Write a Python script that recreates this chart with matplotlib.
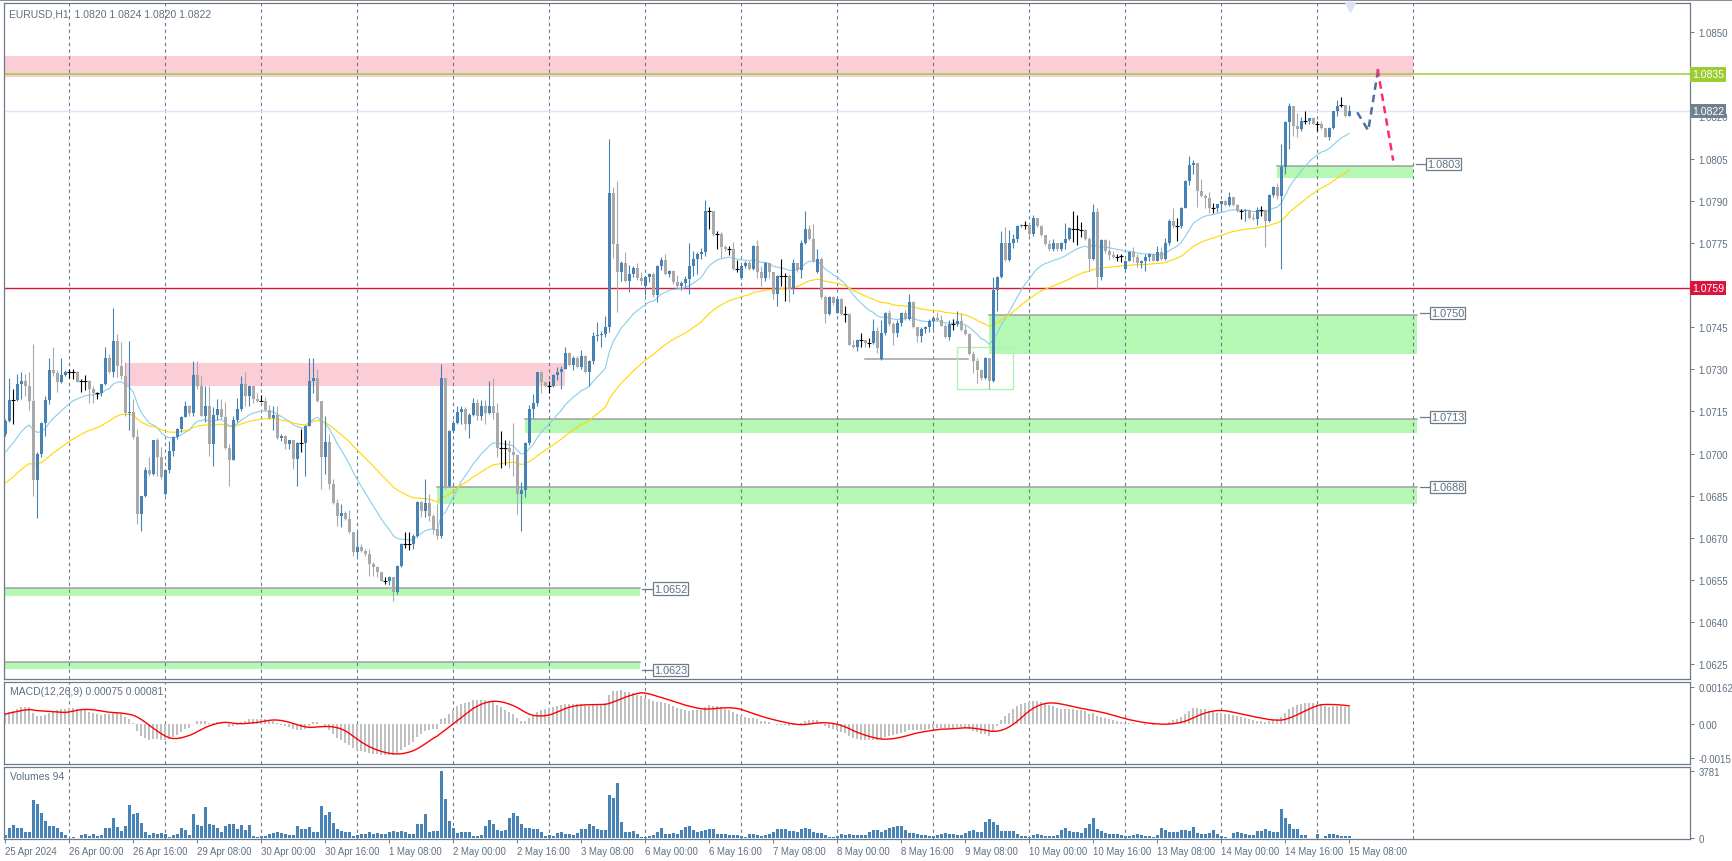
import numpy as np
import pandas as pd
import matplotlib.pyplot as plt
from matplotlib.patches import Rectangle
import matplotlib.transforms as mtransforms

plt.rcParams['font.family'] = ['Liberation Sans', 'DejaVu Sans']

# EURUSD H1, 25 Apr 2024 08:00 .. 15 May 2024 08:00
# prices are given in pips above 1.0000 (711.7 -> 1.07117)
close_pips = [
    711.7, 719.1, 719.1, 724.8, 725.9, 723.9, 718.9, 690.7, 699.9, 710.9,
    719.2, 729.8, 728.7, 725.6, 728.0, 729.2, 729.2, 729.2, 725.6, 725.9,
    725.9, 723.0, 721.6, 721.6, 724.7, 734.0, 729.0, 740.2, 731.3, 727.5,
    714.5, 714.9, 705.8, 678.5, 684.8, 694.0, 692.8, 704.9, 698.7, 691.6,
    694.0, 700.8, 706.0, 708.8, 713.2, 717.1, 714.5, 728.0, 724.2, 713.5,
    717.1, 703.4, 713.8, 715.9, 712.9, 701.9, 697.9, 712.0, 715.9, 724.8,
    720.6, 723.9, 719.4, 718.8, 718.8, 715.6, 712.6, 713.9, 705.5, 706.1,
    703.4, 704.8, 698.1, 703.8, 703.8, 709.9, 726.0, 726.8, 718.8, 698.7,
    704.0, 689.2, 682.4, 677.7, 678.9, 676.7, 672.0, 664.9, 666.6, 665.5,
    664.3, 660.7, 659.8, 657.7, 654.8, 654.8, 656.0, 650.6, 660.1, 667.8,
    667.8, 667.8, 670.8, 682.9, 679.7, 682.3, 677.9, 673.0, 670.8, 726.8,
    688.6, 708.2, 710.9, 714.7, 715.9, 710.6, 713.8, 718.0, 713.5, 717.1,
    714.5, 717.1, 714.5, 702.0, 702.0, 702.0, 700.7, 699.5, 685.7, 687.2,
    703.8, 715.9, 718.0, 729.0, 725.4, 724.2, 724.2, 728.0, 729.2, 730.1,
    735.8, 731.6, 734.0, 730.7, 734.6, 729.0, 733.1, 741.8, 742.2, 742.6,
    744.9, 792.8, 774.6, 764.8, 767.8, 761.6, 763.9, 766.0, 762.4, 761.6,
    762.8, 763.9, 756.5, 766.9, 769.0, 763.9, 765.1, 761.2, 759.8, 760.8,
    762.0, 766.7, 769.1, 771.1, 771.9, 786.2, 786.2, 778.0, 778.0, 773.5,
    772.7, 772.7, 765.8, 765.8, 766.7, 767.9, 765.8, 773.8, 764.8, 762.5,
    767.9, 764.6, 756.9, 763.2, 763.2, 763.2, 758.7, 767.9, 765.5, 775.0,
    780.0, 776.4, 768.7, 769.1, 755.7, 749.8, 755.7, 753.7, 755.1, 749.8,
    749.8, 738.7, 738.0, 740.3, 740.3, 739.5, 739.5, 743.8, 737.5, 743.0,
    750.1, 746.0, 743.0, 746.6, 750.2, 747.8, 753.9, 745.0, 741.8, 744.2,
    745.0, 747.1, 748.3, 747.4, 745.6, 741.5, 746.0, 746.0, 747.1, 743.9,
    742.7, 735.6, 732.8, 729.6, 726.9, 734.0, 725.7, 758.1, 762.8, 775.1,
    768.8, 775.1, 776.3, 781.0, 781.5, 781.5, 778.0, 783.8, 781.0, 777.7,
    774.7, 772.7, 775.1, 772.7, 775.1, 776.3, 780.3, 780.1, 779.8, 779.6,
    776.5, 769.1, 786.0, 763.0, 776.0, 772.0, 770.8, 770.0, 770.0, 770.2,
    768.7, 771.6, 769.9, 767.7, 768.5, 770.1, 771.0, 768.7, 771.6, 769.3,
    774.8, 782.9, 781.1, 781.1, 787.6, 796.9, 802.8, 803.5, 793.6, 791.8,
    791.0, 787.6, 787.6, 788.8, 789.8, 788.6, 791.2, 788.6, 786.2, 786.2,
    786.7, 783.9, 783.5, 786.7, 786.7, 782.7, 792.2, 795.0, 791.8, 801.9,
    817.9, 823.8, 816.7, 815.5, 818.5, 818.5, 819.3, 817.5, 817.5, 815.9,
    812.8, 815.9, 821.8, 823.8, 824.0, 820.0, 822.0]

high_pips = [
    712.3, 726.8, 723.0, 728.4, 729.0, 728.4, 729.0, 739.0, 700.5, 711.2,
    720.4, 733.9, 737.8, 729.9, 733.9, 729.9, 730.0, 730.3, 729.5, 726.6,
    728.0, 726.2, 724.2, 722.1, 724.8, 737.8, 735.5, 751.8, 742.6, 739.9,
    732.7, 740.2, 719.5, 708.8, 685.1, 695.1, 698.7, 705.0, 705.5, 702.3,
    694.3, 704.4, 706.2, 709.0, 713.5, 718.9, 717.4, 733.1, 733.1, 727.8,
    724.2, 724.2, 716.5, 719.5, 719.5, 718.3, 703.4, 713.5, 719.8, 727.7,
    728.9, 724.2, 724.0, 721.6, 720.9, 720.0, 717.3, 716.8, 716.8, 707.0,
    706.5, 705.0, 704.8, 704.0, 708.8, 710.2, 733.9, 733.9, 730.1, 718.8,
    713.5, 707.0, 691.0, 683.8, 682.1, 679.5, 680.0, 672.0, 672.2, 667.8,
    666.0, 666.1, 661.5, 660.0, 658.0, 656.0, 656.5, 656.0, 660.3, 668.2,
    672.0, 672.0, 671.4, 683.2, 683.2, 691.0, 685.6, 678.5, 682.0, 731.9,
    727.0, 708.5, 712.0, 716.8, 716.8, 716.5, 714.5, 719.7, 719.5, 719.2,
    719.0, 725.9, 727.0, 718.0, 708.0, 705.0, 705.0, 710.9, 700.0, 689.8,
    704.0, 717.3, 721.2, 729.2, 729.5, 725.5, 726.0, 728.4, 730.7, 731.3,
    737.8, 736.3, 734.6, 734.9, 737.0, 735.0, 733.5, 743.2, 746.7, 743.5,
    749.1, 812.0, 794.8, 797.2, 768.5, 771.9, 767.1, 766.9, 767.9, 764.8,
    763.3, 764.3, 764.5, 767.2, 769.9, 771.1, 765.5, 765.5, 763.5, 761.3,
    763.4, 775.0, 772.3, 771.9, 773.1, 790.1, 787.7, 786.5, 779.1, 779.0,
    774.3, 774.0, 775.3, 769.0, 767.0, 768.7, 768.5, 774.3, 775.9, 766.7,
    768.1, 768.0, 764.6, 763.5, 769.1, 764.3, 764.0, 769.1, 768.0, 776.2,
    786.2, 781.2, 781.8, 772.9, 769.9, 756.3, 756.0, 756.0, 755.5, 755.4,
    752.7, 749.9, 740.6, 740.9, 743.0, 740.5, 741.0, 748.0, 745.0, 747.4,
    750.4, 751.0, 747.0, 747.5, 750.5, 751.0, 756.9, 754.2, 745.0, 745.0,
    745.5, 748.0, 748.6, 750.4, 749.2, 746.2, 747.4, 748.0, 750.6, 750.2,
    745.9, 742.9, 736.7, 734.0, 730.0, 734.4, 734.2, 762.8, 763.2, 779.1,
    780.6, 779.5, 778.3, 781.5, 781.8, 782.7, 782.0, 785.0, 783.6, 781.2,
    777.7, 775.9, 776.3, 775.1, 775.5, 782.2, 780.6, 786.2, 785.0, 782.5,
    779.8, 777.0, 788.9, 787.4, 776.5, 776.3, 776.0, 772.0, 771.0, 771.1,
    769.0, 772.0, 773.7, 771.0, 769.0, 771.0, 771.3, 771.3, 774.0, 773.7,
    776.7, 783.5, 787.6, 783.9, 787.9, 797.4, 806.0, 804.5, 803.6, 797.7,
    792.3, 793.0, 789.2, 789.0, 790.0, 790.2, 793.0, 791.5, 788.8, 787.1,
    787.1, 787.0, 785.5, 787.9, 788.0, 787.0, 792.5, 795.4, 796.5, 810.2,
    818.5, 824.7, 823.9, 821.1, 819.9, 821.8, 819.5, 819.7, 818.3, 818.3,
    816.0, 816.1, 822.1, 825.8, 827.0, 824.2, 824.0]

low_pips = [
    706.4, 711.2, 710.6, 718.9, 719.5, 720.6, 715.7, 684.8, 677.0, 698.7,
    706.4, 717.7, 727.5, 722.1, 725.0, 727.5, 727.0, 726.6, 725.4, 721.8,
    722.8, 718.0, 718.0, 719.5, 720.6, 724.5, 728.7, 727.2, 727.2, 726.6,
    713.3, 708.5, 705.2, 675.0, 672.6, 684.5, 692.2, 692.5, 691.9, 691.0,
    685.3, 693.1, 699.3, 705.2, 707.6, 712.9, 713.5, 713.5, 723.0, 713.3,
    711.2, 699.3, 695.7, 712.1, 712.3, 701.7, 688.6, 697.8, 711.1, 715.3,
    716.8, 716.8, 718.2, 718.5, 718.6, 715.3, 712.3, 708.5, 705.2, 704.6,
    701.6, 701.6, 694.5, 688.6, 700.7, 691.9, 709.7, 721.6, 718.5, 687.4,
    692.7, 687.4, 682.0, 674.1, 673.8, 676.3, 671.7, 663.7, 663.4, 664.9,
    663.4, 656.6, 656.6, 656.0, 654.5, 653.6, 653.4, 647.7, 650.0, 659.5,
    666.3, 665.8, 666.0, 670.5, 677.3, 677.3, 676.1, 671.5, 669.6, 669.8,
    687.4, 688.0, 707.5, 710.5, 710.6, 708.5, 705.7, 713.5, 711.8, 711.8,
    710.6, 714.1, 712.3, 698.7, 694.8, 695.8, 694.8, 691.9, 678.5, 672.6,
    684.7, 703.0, 712.6, 717.1, 721.6, 723.6, 721.7, 723.6, 726.3, 723.0,
    730.0, 731.3, 729.9, 730.4, 730.3, 728.7, 724.0, 731.9, 740.2, 737.8,
    741.4, 743.4, 769.5, 750.5, 761.6, 761.0, 757.7, 763.0, 761.9, 760.0,
    756.5, 761.0, 755.6, 753.9, 765.5, 763.6, 763.0, 760.4, 759.2, 758.4,
    759.2, 756.9, 763.4, 764.0, 769.3, 770.5, 779.8, 777.5, 772.7, 769.7,
    772.3, 770.8, 765.2, 764.6, 762.2, 766.0, 765.5, 765.5, 762.5, 759.6,
    761.3, 762.5, 755.1, 752.7, 759.8, 754.5, 753.9, 756.9, 764.8, 762.5,
    774.7, 776.2, 768.1, 764.3, 755.1, 746.6, 749.4, 753.0, 750.0, 749.5,
    746.8, 738.5, 737.5, 736.7, 737.9, 737.9, 737.9, 739.2, 735.9, 733.5,
    742.3, 745.5, 738.7, 741.5, 745.5, 747.4, 747.4, 744.7, 739.9, 739.9,
    743.0, 743.3, 744.5, 747.1, 745.4, 741.1, 740.3, 743.9, 745.6, 743.5,
    742.3, 735.2, 728.8, 725.2, 726.1, 726.5, 723.1, 725.5, 750.6, 762.5,
    768.4, 768.5, 773.2, 775.5, 780.5, 779.8, 777.5, 777.5, 780.6, 777.4,
    774.4, 772.3, 772.3, 772.0, 772.3, 772.9, 775.9, 775.5, 774.4, 777.0,
    776.0, 764.9, 768.8, 758.9, 761.7, 771.5, 768.8, 769.5, 768.5, 768.2,
    765.5, 768.4, 768.1, 766.3, 766.0, 764.9, 768.4, 768.4, 768.4, 768.9,
    768.9, 774.4, 780.3, 775.8, 780.3, 787.5, 795.7, 799.5, 787.9, 791.4,
    787.4, 785.5, 785.5, 785.9, 786.2, 788.0, 788.2, 788.2, 785.9, 783.5,
    782.9, 783.5, 783.0, 781.5, 784.7, 773.7, 782.3, 791.5, 790.6, 765.7,
    799.7, 808.4, 813.2, 812.8, 814.7, 817.5, 817.5, 817.3, 814.7, 815.5,
    812.6, 811.6, 815.5, 820.3, 823.3, 819.8, 820.0]

# opens follow the previous close except for the first bar and a few gaps
first_open = 707.0
gap_opens = {40: 685.6, 160: 759.8, 184: 762.5, 203: 764.8, 208: 750.1,
             219: 733.7, 280: 765.7}

volume = [
    190, 590, 720, 590, 550, 360, 340, 2140, 1910, 1380,
    945, 660, 660, 550, 340, 170, 20, 60, 20, 150,
    210, 110, 210, 110, 150, 590, 590, 1100, 620, 400,
    680, 1850, 1340, 1380, 870, 340, 170, 300, 210, 260,
    245, 60, 170, 245, 590, 470, 170, 1340, 720, 680,
    1740, 810, 720, 550, 340, 680, 810, 775, 490, 720,
    470, 720, 110, 60, 110, 110, 230, 260, 320, 260,
    210, 150, 150, 680, 490, 490, 600, 320, 320, 1795,
    1300, 1455, 870, 530, 415, 320, 320, 130, 170, 230,
    230, 340, 230, 260, 230, 230, 340, 415, 340, 415,
    360, 230, 230, 810, 810, 1340, 340, 380, 380, 3781,
    2210, 965, 550, 300, 360, 320, 320, 130, 130, 170,
    660, 1000, 810, 435, 400, 435, 1100, 1380, 1230, 810,
    550, 550, 490, 490, 340, 130, 170, 95, 280, 340,
    210, 210, 150, 300, 530, 530, 775, 660, 530, 435,
    430, 2420, 2230, 3080, 910, 340, 340, 380, 245, 57,
    57, 130, 150, 340, 550, 245, 245, 285, 245, 435,
    625, 680, 435, 340, 380, 435, 530, 490, 245, 210,
    245, 170, 170, 170, 113, 57, 210, 210, 170, 130,
    170, 245, 360, 490, 490, 490, 380, 380, 340, 510,
    550, 490, 340, 285, 300, 190, 57, 57, 95, 245,
    170, 245, 170, 170, 170, 170, 340, 435, 435, 340,
    435, 570, 625, 660, 660, 435, 285, 285, 230, 190,
    150, 113, 113, 170, 210, 300, 210, 210, 170, 170,
    300, 400, 435, 340, 340, 890, 1060, 910, 720, 380,
    380, 380, 380, 245, 130, 95, 57, 170, 245, 170,
    95, 95, 95, 170, 435, 570, 400, 360, 340, 285,
    550, 810, 1130, 530, 380, 285, 210, 245, 245, 170,
    95, 130, 170, 245, 170, 113, 95, 57, 170, 570,
    470, 340, 360, 340, 435, 470, 380, 625, 285, 245,
    245, 285, 435, 210, 113, 57, 20, 285, 320, 285,
    245, 170, 170, 380, 380, 490, 380, 340, 320, 1645,
    1130, 775, 490, 490, 150, 150, 20, 20, 210, 20,
    130, 210, 210, 170, 130, 95, 94]

time_labels = ["25 Apr 2024", "26 Apr 00:00", "26 Apr 16:00", "29 Apr 08:00",
               "30 Apr 00:00", "30 Apr 16:00", "1 May 08:00", "2 May 00:00",
               "2 May 16:00", "3 May 08:00", "6 May 00:00", "6 May 16:00",
               "7 May 08:00", "8 May 00:00", "8 May 16:00", "9 May 08:00",
               "10 May 00:00", "10 May 16:00", "13 May 08:00", "14 May 00:00",
               "14 May 16:00", "15 May 08:00"]
label_step = 16
day_grid = np.arange(16, 353, 24)   # midnight of each day (bar index)

# starting values of the indicator lines at the left edge
fast_ma_start, slow_ma_start = 1.06993, 1.06886
ema12_start, ema26_start = 1.0703, 1.0699

# demand zones (green) and supply zones (pink)
demand_label = ["1.0803", "1.0750", "1.0713", "1.0688", "1.0652", "1.0623"]
demand_top = [1.08025, 1.07494, 1.07124, 1.06880, 1.06521, 1.06258]
demand_bottom = [1.07981, 1.07356, 1.07074, 1.06820, 1.06493, 1.06234]
demand_from = [318.0, 246.0, 130.0, 108.0, -0.5, -0.5]
demand_to = [352.0, 353.0, 353.0, 353.0, 158.7, 158.7]
demand_label_y = [1.0803, 1.0750, 1.0713, 1.0688, 1.0652, 1.0623]

supply_top = [1.08415, 1.07323]
supply_bottom = [1.08342, 1.07242]
supply_from = [-0.5, 30.2]
supply_to = [352.0, 140.0]

# forecast path drawn on the chart
fc_blue_x = [338.0, 340.75, 343.25]
fc_blue_y = [1.08215, 1.08150, 1.08369]
fc_red_x = [343.1, 347.0]
fc_red_y = [1.08369, 1.08043]

# price levels that carry a coloured tag on the price scale
tag_levels = [1.0835, 1.0822, 1.0759]
tag_colors = ['#9acd32', '#708090', '#dc143c']

# ---------------------------------------------------------------
n = len(close_pips)
x = np.arange(n)
c = 1 + np.array(close_pips) / 1e4
o = np.r_[first_open, close_pips[:-1]].astype(float)
for k, v in gap_opens.items():
    o[k] = v
o = 1 + o / 1e4
h = np.maximum(1 + np.array(high_pips) / 1e4, np.maximum(o, c))
l = np.minimum(1 + np.array(low_pips) / 1e4, np.minimum(o, c))


def ema(values, period, start):
    a = 2.0 / (period + 1)
    out = np.empty(len(values))
    e = start
    for k, v in enumerate(values):
        e = e + a * (v - e)
        out[k] = e
    return out


fast_ma = ema(c, 20, fast_ma_start)
slow_ma = ema(c, 50, slow_ma_start)
macd = ema(c, 12, ema12_start) - ema(c, 26, ema26_start)
signal = pd.Series(macd).rolling(9, min_periods=1).mean().values

W, H = 1733, 862
fig = plt.figure(figsize=(W / 100, H / 100), dpi=100)
fig.patch.set_facecolor('white')


def px_rect(x0, y0, x1, y1):
    return [x0 / W, 1 - y1 / H, (x1 - x0) / W, (y1 - y0) / H]


ax = fig.add_axes(px_rect(4, 4, 1690, 680))
axm = fig.add_axes(px_rect(4, 683, 1690, 764.5), sharex=ax)
axv = fig.add_axes(px_rect(4, 767.5, 1690, 840), sharex=ax)

EDGE = '#6c7a89'
TXT = '#5f6f80'
BULL = '#4682b4'
BEAR = '#a9a9a9'

for a in (ax, axm, axv):
    for s in a.spines.values():
        s.set_color(EDGE)
        s.set_linewidth(0.9)
    a.yaxis.tick_right()
    a.tick_params(axis='y', direction='out', length=3, width=0.7, colors=EDGE,
                  labelcolor=TXT, labelsize=7, pad=3)
    a.tick_params(axis='x', bottom=False, labelbottom=False)
    for g in day_grid:
        a.axvline(g, color=EDGE, lw=0.8, ls=(0, (3, 3)), zorder=1.5)

ax.set_xlim(-0.325, 421.2)
ax.set_ylim(1.061979, 1.086039)

# zones
for t, b, x0, x1 in zip(supply_top, supply_bottom, supply_from, supply_to):
    ax.add_patch(Rectangle((x0, b), x1 - x0, t - b, facecolor='#fbcdd6',
                           edgecolor='none', zorder=1))
for lab, t, b, x0, x1, ly in zip(demand_label, demand_top, demand_bottom,
                                 demand_from, demand_to, demand_label_y):
    ax.add_patch(Rectangle((x0, b), x1 - x0, t - b, facecolor='#b4f8b4',
                           edgecolor='none', zorder=1))
    ax.plot([x0, x1], [t, t], color='#a0a0a0', lw=1.1, zorder=1.2)
    ax.plot([x1 + 0.6, x1 + 3.2], [ly, ly], color=EDGE, lw=0.9, zorder=6)
    ax.text(x1 + 3.4, ly, lab, ha='left', va='center', fontsize=7.8,
            color=TXT, zorder=7,
            bbox=dict(facecolor='white', edgecolor=EDGE, lw=0.9, pad=0.8))

# horizontal levels
ax.axhline(1.0835, color='#9acd32', lw=1.1, zorder=2)
ax.axhline(1.0759, color='#dc143c', lw=1.0, zorder=2)
ax.axhline(1.0822, color='#e2e2f8', lw=1.0, zorder=2)
ax.plot([215, 240.7], [1.07337, 1.07337], color='#a0a0a0', lw=1.1, zorder=2)
ax.add_patch(Rectangle((238, 1.07231), 14, 0.00148, facecolor='none',
                       edgecolor='#b0f0b0', lw=1.0, zorder=2))

# moving averages
ax.plot(x, fast_ma, color='#87ceeb', lw=0.8, zorder=3)
ax.plot(x, slow_ma, color='#ffd700', lw=0.8, zorder=3)

# candles
diff = c - o
up = diff > 0.00003
dn = diff < -0.00003
flat = ~(up | dn)
col = np.where(up, BULL, np.where(dn, BEAR, 'black'))
ax.vlines(x, l, h, colors=col, lw=0.8, zorder=4)
body = ~flat
ax.bar(x[body], diff[body], bottom=o[body], width=0.75, color=col[body],
       linewidth=0, zorder=5)
ax.hlines(c[flat], x[flat] - 0.5, x[flat] + 0.5, colors='black', lw=0.8,
          zorder=5)

# forecast arrows
ax.plot(fc_blue_x, fc_blue_y, color='#4d6fa8', lw=1.8, ls=(0, (3, 2)), zorder=6)
ax.plot(fc_red_x, fc_red_y, color='#ff2a6d', lw=1.8, ls=(0, (3, 2)), zorder=6)
ax.plot([336.2], [1.08590], marker='v', ms=7, color='#dde1f7', zorder=6,
        clip_on=False)

# price axis; scale labels hidden under a coloured tag are left blank
ticks = np.round(np.arange(1.0625, 1.08501, 0.0015), 4)
ax.set_yticks(ticks)
tick_text = []
for t in ticks:
    covered = any(abs(t - lv) < 0.0002 and abs(t - lv) > 0.00005 or abs(t - lv) < 1e-9
                  for lv in tag_levels if lv != 1.0822)
    tick_text.append('' if covered else '%.4f' % t)
ax.set_yticklabels(tick_text)
blend = mtransforms.blended_transform_factory(ax.transAxes, ax.transData)
for val, fc in zip(tag_levels, tag_colors):
    ax.text(1.0012, val, '%.4f' % val, transform=blend, ha='left', va='center',
            fontsize=7.6, color='white', zorder=8, clip_on=False,
            bbox=dict(facecolor=fc, edgecolor='none', pad=1.6))

ax.text(0.003, 0.985, 'EURUSD,H1  1.0820 1.0824 1.0820 1.0822',
        transform=ax.transAxes, fontsize=7.5, color=TXT, va='center', ha='left')

# MACD panel
axm.bar(x, macd, width=0.6, color='#c0c0c0', linewidth=0, zorder=2)
axm.plot(x, signal, color='red', lw=1.0, zorder=3)
axm.set_ylim(-0.00173, 0.00185)
axm.set_yticks([-0.0015, 0.0, 0.00162])
axm.set_yticklabels(['-0.0015', '0.00', '0.00162'])
axm.text(0.0033, 0.89, 'MACD(12,26,9) 0.00075 0.00081', transform=axm.transAxes,
         fontsize=7.5, color=TXT, va='center', ha='left')

# volume panel
axv.bar(x, volume, width=0.7, color=BULL, linewidth=0, zorder=2)
axv.set_ylim(-56, 4017)
axv.set_yticks([0, 3781])
axv.set_yticklabels(['0', '3781'])
axv.text(0.0033, 0.87, 'Volumes 94', transform=axv.transAxes,
         fontsize=7.5, color=TXT, va='center', ha='left')

lab_pos = np.arange(0, n, label_step)[:len(time_labels)]
axv.tick_params(axis='x', bottom=True, labelbottom=True, direction='out',
                length=3, width=0.7, colors=EDGE, labelcolor=TXT,
                labelsize=6.9, pad=2)
axv.set_xticks(lab_pos)
axv.set_xticklabels(time_labels)
for t in axv.get_xticklabels():
    t.set_ha('left')

fig.add_artist(Rectangle((0, 1 - 2 / H), 1, 2 / H, transform=fig.transFigure,
                         facecolor='#8c8c8c', edgecolor='none'))

fig.savefig('out.png', dpi=100, facecolor='white')
